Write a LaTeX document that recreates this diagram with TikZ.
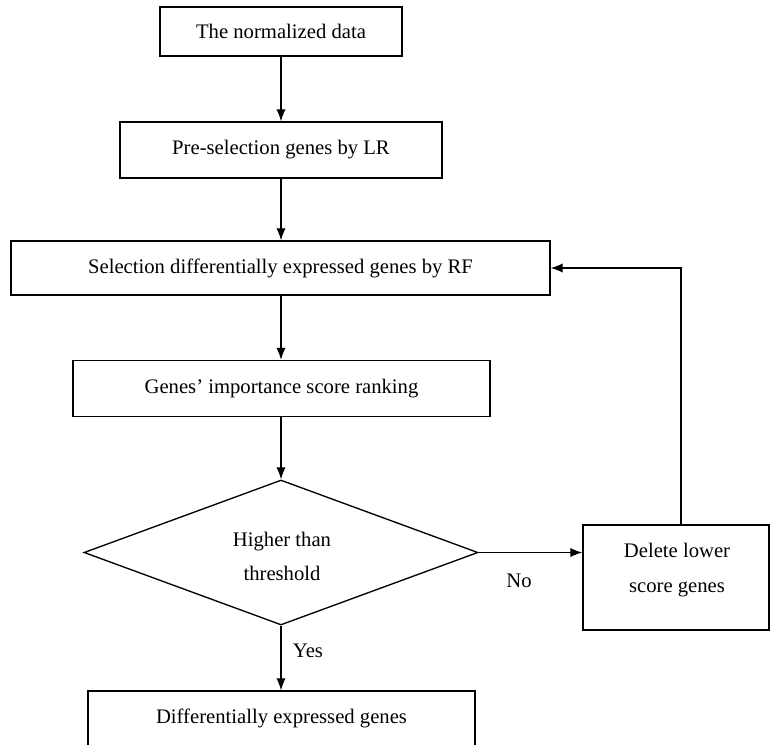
\documentclass[tikz,border=0pt]{standalone}
\usepackage{fontspec}
\setmainfont{Liberation Serif}
\usetikzlibrary{arrows.meta,shapes.geometric}
\begin{document}
\begin{tikzpicture}[x=0.75pt,y=-0.75pt,
  every node/.style={font=\fontsize{15.5pt}{19pt}\selectfont},
  box/.style={draw,line width=1pt,inner sep=0pt,align=center},
  arr/.style={draw,line width=1pt,-{Latex[length=9pt,width=7pt]}},
  ln/.style={draw,line width=1pt}]
\clip (0,0) rectangle (770,745);
\node[box,minimum width=242*0.75pt,minimum height=49*0.75pt] (b1) at (281,31.5) {The normalized data};
\node[box,minimum width=322*0.75pt,minimum height=56*0.75pt] (b2) at (281,150) {Pre-selection genes by LR};
\node[box,minimum width=539*0.75pt,minimum height=54*0.75pt] (b3) at (280.5,268) {Selection differentially expressed genes by RF};
\node[box,minimum width=417*0.75pt,minimum height=56*0.75pt] (b4) at (281.5,388.5) {Genes’ importance score ranking};
\node[draw,line width=1pt,diamond,inner sep=0pt,minimum width=394*0.75pt,minimum height=145*0.75pt] (dia) at (281,552.5) {};
\node[align=center,font=\fontsize{15.5pt}{25.5pt}\selectfont] (dtext) at (282,556) {Higher than\\threshold};
\node[box,minimum width=186*0.75pt,minimum height=105*0.75pt] (del) at (676,577.5) {};
\node[align=center,font=\fontsize{15.5pt}{26pt}\selectfont] (deltext) at (677,570) {Delete lower\\score genes};
\node[box,minimum width=387*0.75pt,minimum height=60*0.75pt] (b5) at (281.5,721) {};
\node (b5text) at (281.5,718) {Differentially expressed genes};
\coordinate (fb) at (681,268);
\draw[arr] (b1) -- (b2);
\draw[arr] (b2.south) -- (b2.south |- b3.north);
\draw[arr] (b2.south |- b3.south) -- (b2.south |- b4.north);
\draw[arr] (b2.south |- b4.south) -- (dia.north);
\draw[arr] (dia.east) -- (dia.east -| del.west);
\draw[arr] (dia.south) -- (b5.north -| dia.south);
\draw[arr] (del.north -| fb) -- (fb) -- (b3.east);
\node (no) at (519,581) {No};
\node (yes) at (308,651) {Yes};
\end{tikzpicture}
\end{document}
